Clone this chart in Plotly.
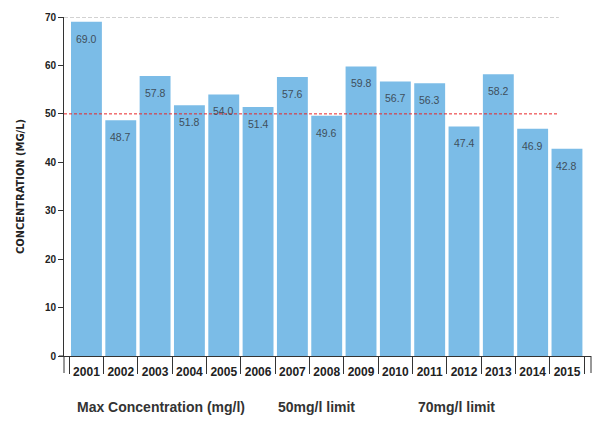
import plotly.graph_objects as go

years = ["2001", "2002", "2003", "2004", "2005", "2006", "2007", "2008",
         "2009", "2010", "2011", "2012", "2013", "2014", "2015"]
max_conc = [69.0, 48.7, 57.8, 51.8, 54.0, 51.4, 57.6, 49.6,
            59.8, 56.7, 56.3, 47.4, 58.2, 46.9, 42.8]
limit_50 = 50
limit_70 = 70
y_ticks = [0, 10, 20, 30, 40, 50, 60, 70]
legend_labels = ["Max Concentration (mg/l)", "50mg/l limit", "70mg/l limit"]

COND = "DejaVu Sans Condensed, Liberation Sans Narrow, DejaVu Sans, sans-serif"
SANS = "Liberation Sans, Arial, Helvetica, sans-serif"

fig = go.Figure()
fig.add_trace(go.Bar(
    x=years, y=max_conc,
    marker=dict(color="#7bbce7", line=dict(width=0)),
    showlegend=False,
    hovertemplate="%{x}: %{y:.1f}<extra></extra>",
))

shapes = []
for val, col, dash in [(limit_70, "#a6a6a6", "4px,2px"), (limit_50, "#e8262a", "3px,2px")]:
    shapes.append(dict(type="line", xref="paper", yref="y", x0=0, x1=0.939,
                       y0=val, y1=val, line=dict(color=col, width=1, dash=dash), layer="above"))
# end ticks of x axis
for xp in [0, 1]:
    shapes.append(dict(type="line", xref="paper", yref="paper", x0=xp, x1=xp,
                       y0=0, y1=-17/339, line=dict(color="#333333", width=1)))
# extend x axis line left slightly
shapes.append(dict(type="line", xref="paper", yref="paper", x0=-5/527, x1=0,
                   y0=0, y1=0, line=dict(color="#333333", width=1)))

annotations = []
# value labels inside bars, below the bar top (x given as category index)
for i, v in enumerate(max_conc):
    annotations.append(dict(text=f"{v:.1f}", x=i, y=v, xref="x", yref="y",
                            yshift=-17, yanchor="middle", xanchor="center", showarrow=False,
                            font=dict(family=SANS, size=10.5, color="#3f4f5c")))
for label, xpx in zip(legend_labels, [75, 276, 416]):
    annotations.append(dict(text=f"<b>{label}</b>", xref="paper", yref="paper",
                            x=(xpx - 64) / 527, y=-51 / 339, xanchor="left", yanchor="middle",
                            showarrow=False, font=dict(family=SANS, size=14, color="#333333")))

fig.update_layout(
    width=594, height=427,
    margin=dict(l=64, r=3, t=17, b=71),
    paper_bgcolor="white", plot_bgcolor="white",
    bargap=0.1,
    shapes=shapes,
    annotations=annotations,
    xaxis=dict(
        type="category", range=[-0.654, 14.7],
        showline=True, linecolor="#333333", linewidth=1,
        ticks="outside", tickson="boundaries", ticklen=17, tickcolor="#333333", tickwidth=1,
        ticklabelstandoff=5, tickangle=0,
        tickfont=dict(family=SANS, size=12, color="#222222", weight="bold"),
        showgrid=False, zeroline=False, fixedrange=True,
    ),
    yaxis=dict(
        range=[0, 70], tickvals=y_ticks,
        showline=True, linecolor="#333333", linewidth=1,
        ticks="outside", ticklen=5, tickcolor="#333333",
        tickfont=dict(family=SANS, size=10, color="#222222", weight="bold"),
        showgrid=False, zeroline=False,
        title=dict(text="<b>CONCENTRATION (MG/L)</b>", standoff=18,
                   font=dict(family=COND, size=11, color="#222222")),
    ),
)

fig.write_html("out.html")
